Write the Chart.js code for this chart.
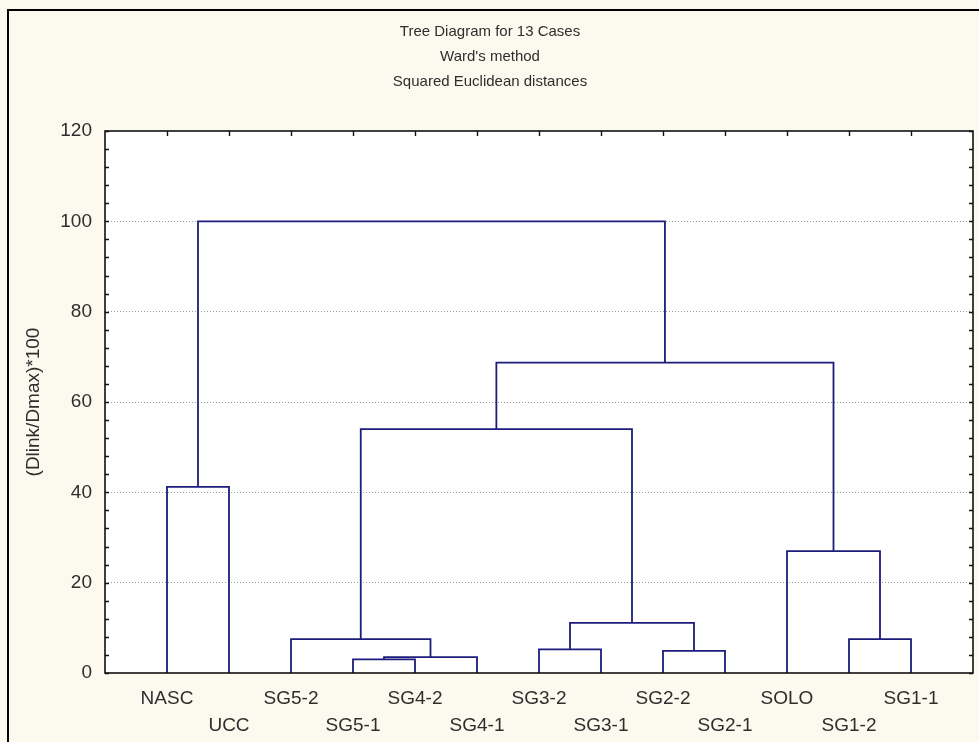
<!DOCTYPE html>
<html>
<head>
<meta charset="utf-8">
<script src="https://cdn.jsdelivr.net/npm/chart.js@4.4.0/dist/chart.umd.min.js"></script>
<style>
  html, body { margin: 0; padding: 0; background: #fcf9ee; }
  #wrap { position: relative; width: 979px; height: 742px; overflow: hidden; background: #fcf9ee; }
  #frame { position: absolute; left: 7px; top: 9px; width: 1000px; height: 800px;
           border: 2px solid #000; box-sizing: border-box; }
  canvas { position: absolute; left: 0; top: 0; }
</style>
</head>
<body>
<div id="wrap">
  <div id="frame"></div>
  <canvas id="c" width="979" height="742"></canvas>
</div>
<script>
// Chart text
const titleLines = ['Tree Diagram for 13 Cases', "Ward's method", 'Squared Euclidean distances'];
const yAxisTitle = '(Dlink/Dmax)*100';

// Leaves in dendrogram order (left to right)
const leafLabels = ['NASC', 'UCC', 'SG5-2', 'SG5-1', 'SG4-2', 'SG4-1', 'SG3-2',
                    'SG3-1', 'SG2-2', 'SG2-1', 'SOLO', 'SG1-2', 'SG1-1'];

// Linkage steps: node ids 0..12 are leaves, each merge creates node 13, 14, ...
const mergeLeft   = [3,   13,  8,   6,    2,   11,  16,   10,   0,    17,   22,   21];
const mergeRight  = [4,   5,   9,   7,    14,  12,  15,   18,   1,    19,   20,   23];
const mergeHeight = [3.0, 3.5, 4.9, 5.25, 7.5, 7.5, 11.1, 27.0, 41.2, 54.0, 68.7, 100];

// Axis ticks
const yTickValues = [0, 20, 40, 60, 80, 100, 120];

const FONT = '"Liberation Sans", Arial, sans-serif';
const LINE_COLOR = '#1c1c7c';
const TEXT_COLOR = '#2e2e2e';

// Node positions: leaves sit at x = 1..13, height 0
const nodeX = leafLabels.map((_, i) => i + 1);
const nodeH = leafLabels.map(() => 0);
const datasets = [];
mergeLeft.forEach((l, k) => {
  const r = mergeRight[k];
  const h = mergeHeight[k];
  datasets.push({
    data: [
      { x: nodeX[l], y: nodeH[l] },
      { x: nodeX[l], y: h },
      { x: nodeX[r], y: h },
      { x: nodeX[r], y: nodeH[r] }
    ],
    borderColor: LINE_COLOR,
    borderWidth: 1.8,
    pointRadius: 0,
    fill: false,
    tension: 0
  });
  nodeX.push((nodeX[l] + nodeX[r]) / 2);
  nodeH.push(h);
});

const frameAndTextPlugin = {
  id: 'frameAndText',
  beforeDraw(chart) {
    const { ctx, chartArea: a } = chart;
    ctx.save();
    ctx.fillStyle = '#ffffff';
    ctx.fillRect(a.left, a.top, a.right - a.left, a.bottom - a.top);
    ctx.restore();
  },
  afterDraw(chart) {
    const { ctx, chartArea: a, scales } = chart;
    const xs = scales.x, ys = scales.y;
    ctx.save();
    // plot frame
    ctx.strokeStyle = '#111';
    ctx.lineWidth = 1.6;
    ctx.strokeRect(a.left, a.top, a.right - a.left, a.bottom - a.top);
    // inward minor ticks on left and right every 4 units
    ctx.lineWidth = 1.4;
    ctx.beginPath();
    for (let v = 0; v <= 120; v += 4) {
      const y = Math.round(ys.getPixelForValue(v)) + 0.5;
      ctx.moveTo(a.left, y); ctx.lineTo(a.left + 4, y);
      ctx.moveTo(a.right, y); ctx.lineTo(a.right - 4, y);
    }
    // inward ticks on top at each leaf
    leafLabels.forEach((_, i) => {
      const x = Math.round(xs.getPixelForValue(i + 1)) + 0.5;
      ctx.moveTo(x, a.top); ctx.lineTo(x, a.top + 5);
    });
    ctx.stroke();

    // titles
    ctx.fillStyle = TEXT_COLOR;
    ctx.font = '15px ' + FONT;
    ctx.textAlign = 'center';
    ctx.textBaseline = 'middle';
    titleLines.forEach((t, i) => ctx.fillText(t, 490, 32 + i * 25));

    // y axis title
    ctx.font = '19px ' + FONT;
    ctx.translate(34, 402);
    ctx.rotate(-Math.PI / 2);
    ctx.fillText(yAxisTitle, 0, 0);
    ctx.restore();
  }
};

new Chart(document.getElementById('c'), {
  type: 'line',
  data: { datasets },
  options: {
    responsive: false,
    animation: false,
    events: [],
    layout: { padding: { top: 131, left: 0, right: 6, bottom: 0 } },
    plugins: { legend: { display: false }, tooltip: { enabled: false }, title: { display: false } },
    scales: {
      x: {
        type: 'linear',
        min: 0,
        max: 14,
        grid: { display: false, drawTicks: false },
        border: { display: false },
        afterBuildTicks(scale) {
          scale.ticks = leafLabels.map((_, i) => ({ value: i + 1 }));
        },
        afterFit(scale) { scale.height = 69; },
        ticks: {
          autoSkip: false,
          maxRotation: 0,
          minRotation: 0,
          padding: 12,
          color: TEXT_COLOR,
          font: { family: FONT, size: 19, lineHeight: '27px' },
          callback(value) {
            const i = Math.round(value) - 1;
            const lab = leafLabels[i] || '';
            return i % 2 === 0 ? [lab, ''] : ['', lab];
          }
        }
      },
      y: {
        type: 'linear',
        min: 0,
        max: 120,
        afterBuildTicks(scale) {
          scale.ticks = yTickValues.map(v => ({ value: v }));
        },
        afterFit(scale) { scale.width = 105; },
        grid: {
          drawTicks: false,
          lineWidth: 1,
          color: (c) => (c.tick && (c.tick.value === 0 || c.tick.value === 120)) ? 'rgba(0,0,0,0)' : '#9a9a9a'
        },
        border: { display: false, dash: [1, 2] },
        ticks: {
          padding: 13,
          color: TEXT_COLOR,
          font: { family: FONT, size: 19 }
        }
      }
    }
  },
  plugins: [frameAndTextPlugin]
});
</script>
</body>
</html>
